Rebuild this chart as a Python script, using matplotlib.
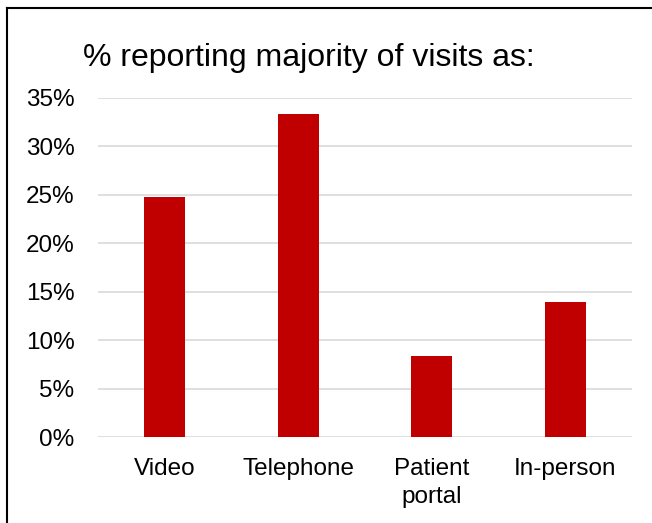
import matplotlib
matplotlib.use("Agg")
import matplotlib.pyplot as plt
from matplotlib.ticker import PercentFormatter
from matplotlib.lines import Line2D

categories = ["Video", "Telephone", "Patient\nportal", "In-person"]
values = [0.248, 0.333, 0.084, 0.139]
yticks = [0, 0.05, 0.10, 0.15, 0.20, 0.25, 0.30, 0.35]
title = "% reporting majority of visits as:"

plt.rcParams['font.family'] = ['Liberation Sans', 'DejaVu Sans']

W, H = 652, 523
fig = plt.figure(figsize=(W/100, H/100), dpi=100)
ax = fig.add_axes([98/W, 1-437/H, (632-98)/W, (437-98)/H])

x = list(range(len(categories)))
ax.bar(x, values, width=0.31, color="#C00000", zorder=3)
ax.set_xlim(-0.5, len(categories)-0.5)
ax.set_ylim(0, 0.35)
ax.set_yticks(yticks)
ax.yaxis.set_major_formatter(PercentFormatter(1.0, decimals=0))
ax.set_xticks(x)
ax.set_xticklabels(categories, fontsize=17.5, linespacing=1.35)
ax.tick_params(axis='y', labelsize=17.5, length=0, pad=17)
ax.tick_params(axis='x', length=0, pad=15)
ax.grid(axis='y', color="#D9D9D9", linewidth=1.2, zorder=0)
for s in ax.spines.values():
    s.set_visible(False)

fig.text(83/W, 1-58/H, title, fontsize=23, va='center', ha='left')

# figure border (left and top edges visible)
fig.add_artist(Line2D([7/W, 7/W], [0, 1-8/H], transform=fig.transFigure, color='black', linewidth=1.5))
fig.add_artist(Line2D([7/W, 1], [1-8/H, 1-8/H], transform=fig.transFigure, color='black', linewidth=1.5))

fig.savefig("out.png", dpi=100)
